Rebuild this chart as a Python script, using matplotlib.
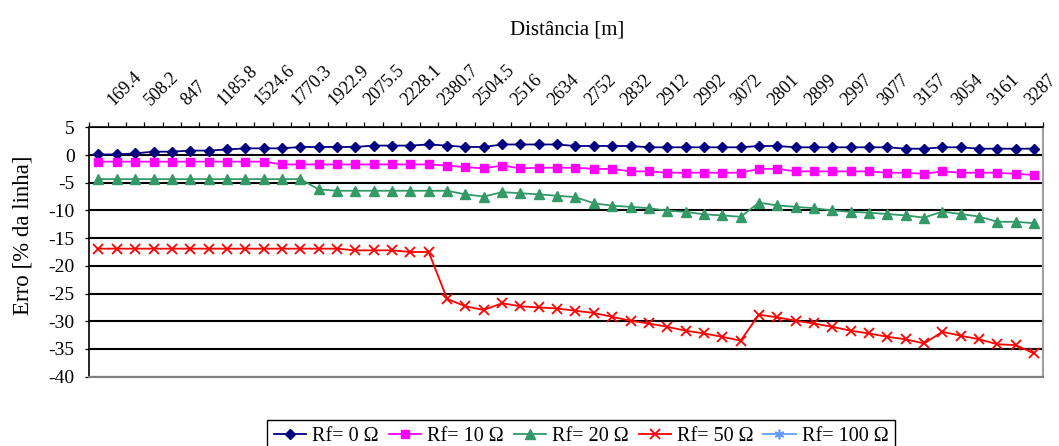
import numpy as np
import matplotlib
matplotlib.use("Agg")
import matplotlib.pyplot as plt
from matplotlib.transforms import ScaledTranslation

plt.rcParams['font.family'] = ['Liberation Serif', 'DejaVu Serif']
plt.rcParams['axes.unicode_minus'] = False

# ---- data ----
dist_labels = ["169.4", "508.2", "847", "1185.8", "1524.6", "1770.3", "1922.9",
               "2075.5", "2228.1", "2380.7", "2504.5", "2516", "2634", "2752",
               "2832", "2912", "2992", "3072", "2801", "2899", "2997", "3077",
               "3157", "3054", "3161", "3287"]

rf0 = [0.1, 0.1, 0.3, 0.6, 0.6, 0.8, 0.8, 1.0, 1.2, 1.2, 1.2, 1.45, 1.45, 1.45,
       1.45, 1.7, 1.7, 1.7, 1.9, 1.7, 1.45, 1.45, 1.9, 1.9, 1.9, 1.9,
       1.63, 1.63, 1.63, 1.63, 1.39, 1.39, 1.39, 1.39, 1.39, 1.39, 1.63, 1.63,
       1.39, 1.39, 1.39, 1.39, 1.39, 1.39, 1.14, 1.14, 1.39, 1.39, 1.14, 1.14,
       1.14, 1.14]

rf10 = [-1.2] * 10 + [-1.7] * 9 + [
    -1.9, -2.2, -2.4, -1.9, -2.4, -2.3, -2.3, -2.3, -2.5, -2.5, -2.95, -2.95,
    -3.2, -3.2, -3.2, -3.2, -3.2, -2.5, -2.5, -2.95, -2.95, -2.95, -2.95, -2.95,
    -3.2, -3.2, -3.4, -2.95, -3.2, -3.2, -3.2, -3.4, -3.6]

rf20 = [-4.35] * 12 + [-6.2] + [-6.45] * 7 + [
    -7.1, -7.5, -6.7, -6.9, -7.1, -7.35, -7.6, -8.7, -9.15, -9.35, -9.6, -10.05,
    -10.25, -10.7, -10.9, -11.15, -8.6, -9.1, -9.35, -9.6, -10.0, -10.25, -10.4,
    -10.65, -10.9, -11.3, -10.2, -10.65, -11.1, -12.05, -12.05, -12.3]

rf50 = [-16.9] * 14 + [-17.2] * 3 + [-17.5] * 2 + [
    -25.96, -27.3, -27.95, -26.75, -27.3, -27.5, -27.7, -28.1, -28.5, -29.2,
    -29.9, -30.4, -31.0, -31.7, -32.2, -32.8, -33.5, -28.8, -29.3, -29.9, -30.4,
    -31.0, -31.7, -32.2, -32.8, -33.25, -34.0, -31.9, -32.6, -33.25, -34.15,
    -34.3, -35.8]

rf100 = [np.nan] * 52  # series shown only in legend

series_names = ["Rf= 0 Ω", "Rf= 10 Ω", "Rf= 20 Ω", "Rf= 50 Ω", "Rf= 100 Ω"]
y_ticks = list(range(-40, 6, 5))

# ---- figure ----
fig = plt.figure(figsize=(10.59, 4.46), dpi=100)
ax = fig.add_axes([89.3 / 1059, 1 - 376.7 / 446, 954 / 1059, 249.4 / 446])

x = np.arange(len(rf0))
ax.plot(x, rf0, color='#000080', marker='D', ms=5.5, lw=1.3, label=series_names[0])
ax.plot(x, rf10, color='#FF00FF', marker='s', ms=6, lw=1.3, label=series_names[1])
ax.plot(x, rf20, color='#339966', marker='^', ms=7, lw=1.3, label=series_names[2])
ax.plot(x, rf50, color='#FF0000', marker='x', ms=7, mew=1.3, lw=1.3, label=series_names[3])
ax.plot(x, rf100, color='#6699FF', marker=(6, 2, 0), ms=7, mew=1.2, lw=1.3, label=series_names[4])

ax.set_xlim(-0.5, len(rf0) - 0.5)
ax.set_ylim(-40, 5)

# x axis on top
ax.xaxis.tick_top()
ax.set_xticks(np.arange(-0.5, len(rf0), 1.0))
ax.set_xticklabels([])
ax.set_xticks(x[1::2], dist_labels, minor=True)
ax.tick_params(axis='x', which='major', direction='out', length=3.6, width=0.9,
               color='black', top=True, bottom=False)
ax.tick_params(axis='x', which='minor', length=0, pad=15.5, labelsize=13,
               top=True, bottom=False, labeltop=True, labelbottom=False)
offset = ScaledTranslation(-3 / 100, 0, fig.dpi_scale_trans)
for lbl in ax.get_xticklabels(minor=True):
    lbl.set_rotation(45)
    lbl.set_ha('left')
    lbl.set_va('baseline')
    lbl.set_rotation_mode('anchor')
    lbl.set_transform(lbl.get_transform() + offset)

ax.set_yticks(y_ticks)
ax.tick_params(axis='y', direction='out', length=3, width=0.9, pad=7.5, labelsize=14)

ax.yaxis.grid(True, color='black', lw=1.5)
ax.set_axisbelow(True)

ax.spines['top'].set_color('black')
ax.spines['top'].set_linewidth(1.2)
ax.spines['left'].set_color('black')
ax.spines['left'].set_linewidth(1.2)
ax.spines['right'].set_color('#A0A0A0')
ax.spines['right'].set_linewidth(1.5)
ax.spines['bottom'].set_color('#808080')
ax.spines['bottom'].set_linewidth(1.5)

fig.text(567 / 1059, 1 - 30 / 446, 'Distância [m]', ha='center', va='center', fontsize=15)
ax.set_ylabel('Erro [% da linha]', fontsize=16.5)
ax.yaxis.set_label_coords(-0.058, 0.569)

leg = fig.legend(loc='upper center', bbox_to_anchor=(581 / 1059, 1 - 420 / 446),
                 ncol=5, frameon=True, fancybox=False, edgecolor='black',
                 framealpha=1, fontsize=14.5, handlelength=1.6, handletextpad=0.3,
                 columnspacing=0.5, borderpad=0.35, borderaxespad=0)
leg.get_frame().set_linewidth(1.0)

fig.savefig('out.png', dpi=100)
